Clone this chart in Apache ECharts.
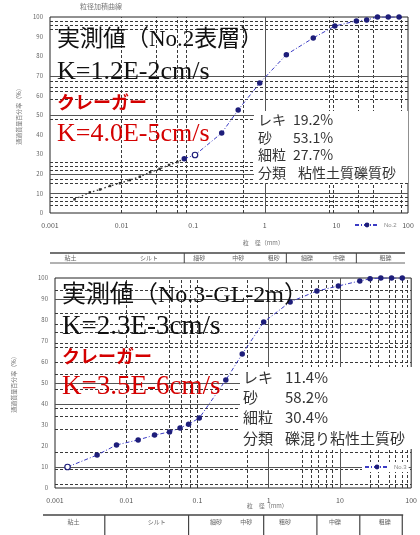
<!DOCTYPE html>
<html>
<head>
<meta charset="utf-8">
<script src="https://cdn.jsdelivr.net/npm/echarts@6/dist/echarts.min.js"></script>
<style>
  html, body { margin: 0; padding: 0; background: #fff; }
  #chart { width: 420px; height: 535px; }
</style>
</head>
<body>
<div id="chart"></div>
<script>
// Sieve openings (mm) shared by both samples
const sieveSizes = [0.075, 0.106, 0.25, 0.425, 0.85, 2, 4.75, 9.5, 19, 26.5, 37.5, 53, 75];

// No.2 surface layer: percent passing
const topSievePass = [27.7, 29.6, 40.8, 52.6, 66.3, 80.8, 89.3, 95.4, 98.0, 98.5, 100, 100, 100];
const topHydroSize = [0.0022, 0.0036, 0.005, 0.0069, 0.0095, 0.013, 0.018, 0.025, 0.034, 0.046, 0.06];
const topHydroPass = [7.0, 10.5, 12.0, 13.8, 15.2, 16.8, 18.5, 20.8, 22.5, 24.5, 26.0];

// No.3 GL-2m: percent passing
const botHydroSize = [0.0015, 0.0039, 0.0073, 0.0147, 0.025, 0.0405, 0.057];
const botHydroPass = [10.0, 15.7, 20.5, 22.9, 25.2, 26.7, 28.6];
const botSievePass = [30.4, 33.3, 51.4, 63.8, 79.0, 88.6, 93.8, 96.2, 98.6, 99.6, 100, 100, 100];

// Axis ticks
const xTicks = [0.001, 0.01, 0.1, 1, 10, 100];
const yTicks = [0, 10, 20, 30, 40, 50, 60, 70, 80, 90, 100];

// Reference lines of the grading paper
const topGridXDashed = [0.007, 0.009, 0.03, 0.06, 0.08, 0.5, 8, 9, 20, 33, 80];
const topGridXSolid = [1];
const topGridYDashed = [4, 6, 8, 15, 17, 22, 24, 26, 48, 58, 62, 64, 67, 94, 96, 98];
const topGridYSolid = [10, 20, 50, 70];
const botGridXDashed = [0.002, 0.003, 0.0057, 0.007, 0.009, 0.042, 0.056, 0.078, 0.104, 0.5, 3, 4, 5, 6.4, 7.7, 27, 34, 50, 60, 75, 88];
const botGridXSolid = [1, 10];
const botGridYDashed = [2, 9, 17, 28, 34, 38, 47, 54, 60, 67, 69, 74, 78, 83, 94];
const botGridYSolid = [10, 40, 50, 90];

// Soil fraction bands under each plot
const topBandEdges = [0.075, 2, 19];
const botBandEdges = [0.005, 0.075, 0.85, 4.75, 19, 75];
const topBandNames = [[0.0016, '粘土'], [0.018, 'シルト'], [0.1, '細砂'], [0.35, '中砂'], [1.1, '粗砂'], [3.2, '細礫'], [9, '中礫'], [40, '粗礫']];
const botBandNames = [[0.0015, '粘土'], [0.02, 'シルト'], [0.15, '細砂'], [0.4, '中砂'], [1.4, '粗砂'], [7, '中礫'], [35, '粗礫']];

const topInfo = [['レキ', '19.2%'], ['砂', '53.1%'], ['細粒', '27.7%'], ['分類', '粘性土質礫質砂']];
const botInfo = [['レキ', '11.4%'], ['砂', '58.2%'], ['細粒', '30.4%'], ['分類', '礫混り粘性土質砂']];

const NAVY = '#1d1d7a';
const BLUE = '#3b3bc4';
const RED = '#d40000';
const SERIF = '"Liberation Serif","Noto Sans CJK JP",serif';
const GOTHIC = '"Noto Sans CJK JP",sans-serif';

function pairs(xs, ys) { return xs.map((x, i) => [x, ys[i]]); }

function gridLines(xd, xs, yd, ys) {
  const dashed = { color: '#3a3a3a', type: [3, 2], width: 1 };
  const solid = { color: '#555', type: 'solid', width: 1 };
  return [].concat(
    xd.map(v => ({ xAxis: v, lineStyle: dashed })),
    yd.map(v => ({ yAxis: v, lineStyle: dashed })),
    xs.map(v => ({ xAxis: v, lineStyle: solid })),
    ys.map(v => ({ yAxis: v, lineStyle: solid }))
  );
}

function gridSeries(idx, data) {
  return {
    type: 'line', xAxisIndex: idx, yAxisIndex: idx, data: [], z: 1, silent: true,
    markLine: { z: 1, symbol: 'none', silent: true, animation: false, label: { show: false }, data: data }
  };
}

function sieveData(pass, hollowIdx) {
  return sieveSizes.map((s, i) => {
    const d = { value: [s, pass[i]] };
    if (i === hollowIdx) d.itemStyle = { color: '#fff', borderColor: NAVY, borderWidth: 1.2 };
    return d;
  });
}

function xAxisCfg(idx) {
  return {
    type: 'log', logBase: 10, min: 0.001, max: 100, gridIndex: idx,
    axisLine: { show: false }, axisTick: { show: false }, splitLine: { show: false },
    axisLabel: {
      margin: 9, fontSize: 7, color: '#555', fontFamily: GOTHIC,
      formatter: v => xTicks.some(t => Math.abs(t - v) / t < 1e-6) ? String(v) : ''
    }
  };
}

function yAxisCfg(idx, gap) {
  return {
    type: 'value', min: 0, max: 100, interval: 10, gridIndex: idx,
    axisLine: { show: false }, axisTick: { show: false }, splitLine: { show: false },
    axisLabel: { margin: 7, fontSize: 6, color: '#666', fontFamily: GOTHIC,
      formatter: v => yTicks.includes(v) ? String(v) : '' },
    name: '通過質量百分率（%）', nameLocation: 'middle', nameGap: gap, nameRotate: 90,
    nameTextStyle: { fontSize: 6, color: '#777', fontFamily: GOTHIC }
  };
}

const chart = echarts.init(document.getElementById('chart'), null, { renderer: 'canvas' });

chart.setOption({
  animation: false,
  backgroundColor: '#fff',
  grid: [
    { left: 50, top: 17, width: 358, height: 196, show: true, borderColor: '#222', borderWidth: 1, backgroundColor: 'transparent' },
    { left: 55, top: 278, width: 364, height: 210, show: true, borderColor: '#222', borderWidth: 1, backgroundColor: 'transparent' }
  ],
  xAxis: [xAxisCfg(0), xAxisCfg(1)],
  yAxis: [yAxisCfg(0, 27), yAxisCfg(1, 38)],
  legend: [
    { data: ['No.2'], left: 352, top: 220, itemWidth: 24, itemHeight: 6, itemGap: 4,
      textStyle: { fontSize: 6, color: '#888' }, backgroundColor: '#fff', padding: 2 },
    { data: ['No.3'], left: 362, top: 462, itemWidth: 24, itemHeight: 6, itemGap: 4,
      textStyle: { fontSize: 6, color: '#888' }, backgroundColor: '#fff', padding: 2 }
  ],
  series: [
    gridSeries(0, gridLines(topGridXDashed, topGridXSolid, topGridYDashed, topGridYSolid)),
    gridSeries(1, gridLines(botGridXDashed, botGridXSolid, botGridYDashed, botGridYSolid)),
    {
      name: 'No.2 沈降', type: 'line', xAxisIndex: 0, yAxisIndex: 0, z: 5,
      data: pairs(topHydroSize, topHydroPass).concat([[sieveSizes[0], topSievePass[0]]]),
      symbol: 'rect', symbolSize: 2.5, showSymbol: true,
      itemStyle: { color: '#333' },
      lineStyle: { color: '#333', width: 1.3, type: [1.5, 2.5] }
    },
    {
      name: 'No.2', type: 'line', xAxisIndex: 0, yAxisIndex: 0, z: 6,
      data: sieveData(topSievePass, 1),
      symbol: 'circle', symbolSize: 5.5,
      itemStyle: { color: NAVY },
      lineStyle: { color: BLUE, width: 1, type: [4, 2, 1, 2] }
    },
    {
      name: 'No.3', type: 'line', xAxisIndex: 1, yAxisIndex: 1, z: 6,
      data: pairs(botHydroSize, botHydroPass).map((p, i) => i === 0
        ? { value: p, itemStyle: { color: '#fff', borderColor: NAVY, borderWidth: 1.2 } }
        : { value: p }).concat(sieveData(botSievePass, -1)),
      symbol: 'circle', symbolSize: 5.5,
      itemStyle: { color: NAVY },
      lineStyle: { color: BLUE, width: 1, type: [4, 2, 1, 2] }
    }
  ]
});

// Annotations, info boxes and fraction bands placed with the axis scales
function px(idx, v) { return chart.convertToPixel({ xAxisIndex: idx }, v); }

const g = [];
function text(x, y, str, size, family, color, weight) {
  g.push({
    type: 'text', x: x, y: y, z: 10,
    style: { text: str, fontSize: size, fontFamily: family, fill: color, fontWeight: weight || 'normal', verticalAlign: 'middle' }
  });
}
function line(x1, y1, x2, y2, w, color) {
  g.push({ type: 'line', z: 10, shape: { x1: x1, y1: y1, x2: x2, y2: y2 }, style: { stroke: color || '#333', lineWidth: w || 1 } });
}

// white panels behind the summary figures
g.push({ type: 'rect', z: 3, shape: { x: 254, y: 111, width: 154, height: 72 }, style: { fill: '#fff' } });
g.push({ type: 'rect', z: 3, shape: { x: 240, y: 367, width: 180, height: 82 }, style: { fill: '#fff' } });

// headline annotations
text(57, 40, '実測値（No.2表層）', 23, SERIF, '#111');
text(57, 72, 'K=1.2E-2cm/s', 26, SERIF, '#111');
text(57, 102, 'クレーガー', 18, GOTHIC, RED, 'bold');
text(57, 134, 'K=4.0E-5cm/s', 26, SERIF, RED);

text(62, 296, '実測値（No.3-GL-2m）', 24, SERIF, '#111');
text(62, 327, 'K=2.3E-3cm/s', 27, SERIF, '#111');
text(62, 356, 'クレーガー', 18, GOTHIC, RED, 'bold');
text(62, 387, 'K=3.5E-6cm/s', 27, SERIF, RED);

// grading summary
topInfo.forEach((r, i) => {
  text(258, 120 + i * 17.5, r[0], 14, GOTHIC, '#333');
  text(i === 3 ? 298 : 293, 120 + i * 17.5, r[1], 14, GOTHIC, '#333');
});
botInfo.forEach((r, i) => {
  text(243, 377 + i * 20.3, r[0], 15, GOTHIC, '#333');
  text(285, 377 + i * 20.3, r[1], 15, GOTHIC, '#333');
});

// small titles
text(80, 6, '粒径加積曲線', 7, GOTHIC, '#777');
text(px(0, 1) - 22, 243, '粒　径（mm）', 6, GOTHIC, '#777');
text(px(1, 1) - 22, 506, '粒　径（mm）', 6, GOTHIC, '#777');

// fraction bands
const topL = px(0, 0.001), topR = px(0, 100) - 3;
line(topL, 253, topR, 253, 1.4, '#444');
line(topL, 263, topR, 263, 1, '#666');
topBandEdges.forEach(e => line(px(0, e), 253, px(0, e), 263, 1, '#444'));
topBandNames.forEach(b => text(px(0, b[0]), 258, b[1], 6, GOTHIC, '#666'));

const botL = px(1, 0.001) - 12, botR = px(1, 100) - 8;
line(botL, 515, botR, 515, 1.4, '#444');
botBandEdges.forEach(e => line(px(1, e), 515, px(1, e), 535, 1.2, '#444'));
botBandNames.forEach(b => text(px(1, b[0]), 522, b[1], 6, GOTHIC, '#666'));

chart.setOption({ graphic: g });
</script>
</body>
</html>
